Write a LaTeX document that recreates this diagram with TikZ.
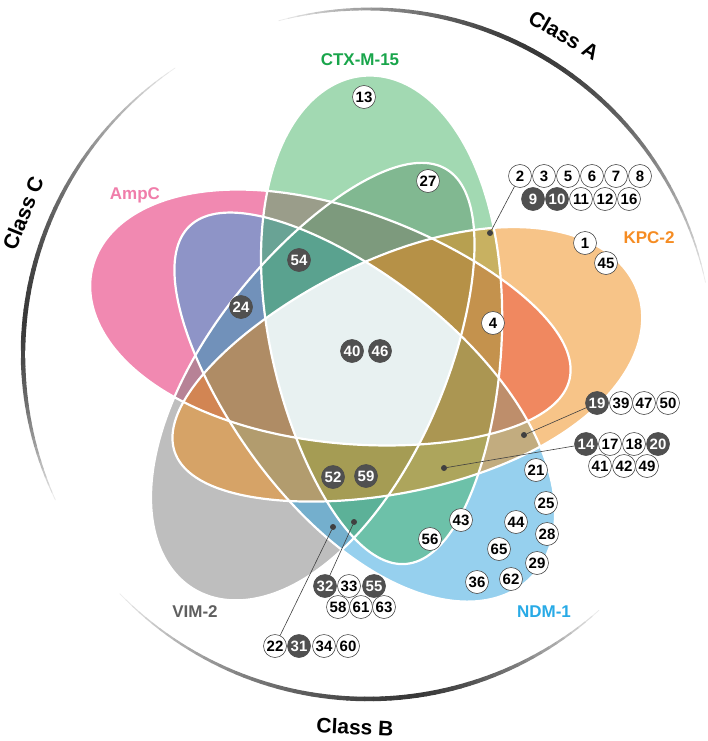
\documentclass[tikz,border=0pt]{standalone}
\usepackage{fontspec}
\setmainfont{Liberation Sans}
\definecolor{ampc}{RGB}{227,19,99}
\definecolor{vim}{RGB}{125,125,125}
\definecolor{ndm}{RGB}{45,161,221}
\definecolor{ctx}{RGB}{69,179,101}
\definecolor{kpc}{RGB}{239,137,17}
\definecolor{core}{RGB}{232,241,241}
\definecolor{ampctext}{RGB}{240,125,170}
\definecolor{ctxtext}{RGB}{25,165,75}
\definecolor{kpctext}{RGB}{245,140,35}
\definecolor{ndmtext}{RGB}{40,170,230}
\definecolor{vimtext}{RGB}{95,95,95}
\definecolor{darknum}{RGB}{80,80,80}
% egg shaped set: angle, centre x, centre y
\newcommand{\eggpath}[3]{plot[variable=\q,domain=0:356,samples=90,smooth cycle]
  ({#2+(38+245*cos(\q))*cos(#1)+(26+118*sin(\q)*(1+0.15*cos(\q)))*sin(#1)},
   {#3-(38+245*cos(\q))*sin(#1)+(26+118*sin(\q)*(1+0.15*cos(\q)))*cos(#1)})}
\def\eggA{\eggpath{167}{362}{358}}
\def\eggC{\eggpath{95}{362}{360}}
\def\eggK{\eggpath{19}{362}{360}}
\def\eggN{\eggpath{-46}{352}{357}}
\def\eggV{\eggpath{-121}{362}{360}}
\tikzset{
  num/.style={circle,draw=black!70,line width=0.6pt,fill=white,minimum size=23pt,inner sep=0pt,font=\fontsize{15}{15}\selectfont\bfseries},
  numdark/.style={num,fill=darknum,text=white},
  pin/.style={circle,fill=black!75,minimum size=6pt,inner sep=0pt},
  leader/.style={black!75,line width=0.6pt},
  setname/.style={font=\fontsize{17}{17}\selectfont\bfseries},
  classname/.style={font=\fontsize{21}{21}\selectfont\bfseries},
  outline/.style={white,line width=2.2pt}
}
\begin{document}
\begin{tikzpicture}[x=1pt,y=1pt,yscale=-1]
\useasboundingbox (0,0) rectangle (708,741);
%Class arcs: start, end, darkest angle
\foreach \a/\b/\c in {12/105/62, 124/205/175, 224/312/278} {
  \foreach \i in {0,...,59} {
    \pgfmathsetmacro\ta{\a+(\b-\a)*\i/60}
    \pgfmathsetmacro\tb{\a+(\b-\a)*(\i+1)/60}
    \pgfmathsetmacro\m{(\ta+\tb)/2}
    \pgfmathsetmacro\f{min(1,\m<\c ? (\c-\m)/(\c-\a) : (\m-\c)/(\b-\c))}
    \pgfmathsetmacro\p{72*(1-\f^1.5)+6}
    \pgfmathsetmacro\w{0.6+4*(1-\f^2)}
    \draw[line width=\w, black!\p, line cap=round] ({368+345*cos(\ta)},{354-345*sin(\ta)}) -- ({368+345*cos(\tb)},{354-345*sin(\tb)});
  }
}
%Shape: sets
\fill[ampc,fill opacity=0.5] \eggA;
\fill[vim,fill opacity=0.5] \eggV;
\fill[ndm,fill opacity=0.5] \eggN;
\fill[ctx,fill opacity=0.5] \eggC;
\fill[kpc,fill opacity=0.5] \eggK;
%Shape: core
\begin{scope}
  \clip \eggA; \clip \eggV; \clip \eggN; \clip \eggC; \clip \eggK;
  \fill[core] (0,0) rectangle (708,741);
\end{scope}
\draw[outline] \eggA;
\draw[outline] \eggV;
\draw[outline] \eggN;
\draw[outline] \eggC;
\draw[outline] \eggK;

% Text Node
\node[setname,text=ctxtext] (lctx) at (360,60) {CTX-M-15};
\node[setname,text=ampctext] (lampc) at (135,195) {AmpC};
\node[setname,text=kpctext] (lkpc) at (649,238) {KPC-2};
\node[setname,text=vimtext] (lvim) at (195,612) {VIM-2};
\node[setname,text=ndmtext] (lndm) at (544,612) {NDM-1};
\node[classname,rotate=-30] (cla) at (564,35) {Class A};
\node[classname,rotate=68] (clc) at (23,213) {Class C};
\node[classname,rotate=-3] (clb) at (355,727) {Class B};

% single numbers
\node[num] (n13) at (364,97) {13};
\node[num] (n27) at (428,181) {27};
\node[numdark] (n54) at (299,260) {54};
\node[numdark] (n24) at (241,307) {24};
\node[numdark] (n40) at (352,351) {40};
\node[numdark] (n46) at (380,351) {46};
\node[num] (n4) at (493,323) {4};
\node[num] (n1) at (585,243) {1};
\node[num] (n45) at (606,263) {45};
\node[numdark] (n52) at (333,477) {52};
\node[numdark] (n59) at (366,476) {59};
\node[num] (n21) at (536,470) {21};
\node[num] (n25) at (546,503) {25};
\node[num] (n44) at (516,522) {44};
\node[num] (n28) at (547,534) {28};
\node[num] (n43) at (461,520) {43};
\node[num] (n56) at (430,539) {56};
\node[num] (n65) at (499,549) {65};
\node[num] (n29) at (537,563) {29};
\node[num] (n62) at (511,579) {62};
\node[num] (n36) at (477,582) {36};

% group at CTX-M-15 / KPC-2
\node[num] (n2) at (520,176) {2};
\node[num] (n3) at (544,176) {3};
\node[num] (n5) at (568,176) {5};
\node[num] (n6) at (592,176) {6};
\node[num] (n7) at (616,176) {7};
\node[num] (n8) at (640,176) {8};
\node[numdark] (n9) at (533,199) {9};
\node[numdark] (n10) at (557,199) {10};
\node[num] (n11) at (581,199) {11};
\node[num] (n12) at (605,199) {12};
\node[num] (n16) at (629,199) {16};
\node[pin] (p2) at (490,233) {};
\draw[leader] (n2) -- (p2);

% group at KPC-2 / NDM-1
\node[numdark] (n19) at (597,403) {19};
\node[num] (n39) at (621,403) {39};
\node[num] (n47) at (644,403) {47};
\node[num] (n50) at (668,403) {50};
\node[pin] (p19) at (524,435) {};
\draw[leader] (n19) -- (p19);

\node[numdark] (n14) at (586,444) {14};
\node[num] (n17) at (610,444) {17};
\node[num] (n18) at (634,444) {18};
\node[numdark] (n20) at (658,444) {20};
\node[num] (n41) at (600,466) {41};
\node[num] (n42) at (624,466) {42};
\node[num] (n49) at (647,466) {49};
\node[pin] (p14) at (444,468) {};
\draw[leader] (n14) -- (p14);

% groups at VIM-2 / NDM-1
\node[numdark] (n32) at (325,586) {32};
\node[num] (n33) at (349,586) {33};
\node[numdark] (n55) at (374,586) {55};
\node[num] (n58) at (338,607) {58};
\node[num] (n61) at (361,607) {61};
\node[num] (n63) at (384,607) {63};
\node[pin] (p32) at (354,522) {};
\draw[leader] (n32) -- (p32);

\node[num] (n22) at (275,646) {22};
\node[numdark] (n31) at (299,646) {31};
\node[num] (n34) at (324,646) {34};
\node[num] (n60) at (348,646) {60};
\node[pin] (p22) at (333,527) {};
\draw[leader] (n22) -- (p22);
\end{tikzpicture}
\end{document}
